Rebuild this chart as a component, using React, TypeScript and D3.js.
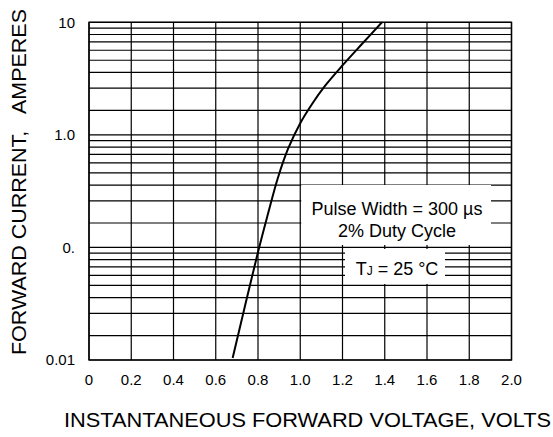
import * as d3 from 'd3';

// forward voltage (V) vs forward current (A)
const voltage = [0.68, 0.80, 0.847, 0.894, 0.942, 1.0, 1.056, 1.117, 1.202, 1.292, 1.387];
const current = [0.0104, 0.091, 0.198, 0.414, 0.75, 1.27, 1.88, 2.72, 4.18, 6.41, 10];

const xTicks = [0, 0.2, 0.4, 0.6, 0.8, 1.0, 1.2, 1.4, 1.6, 1.8, 2.0];
const xTickLabels = ['0', '0.2', '0.4', '0.6', '0.8', '1.0', '1.2', '1.4', '1.6', '1.8', '2.0'];
const yDecades = [10, 1, 0.1, 0.01];
const yTickLabels = ['10', '1.0', '0.', '0.01'];
const minorSteps = [2, 3, 4, 5, 6, 7, 8, 9];

const W = 553, H = 437;
const left = 89, right = 511.5, top = 22.3, bottom = 360;
// the printed sheet draws its minor lines a bit stretched inside each decade
const GRID_STRETCH = 1.12;
const font = '"Liberation Sans", Arial, Helvetica, sans-serif';

const App = () => {
  const x = d3.scaleLinear().domain([0, 2]).range([left, right]);
  const y = d3.scaleLog().domain([0.01, 10]).range([bottom, top]);

  const minorY: number[] = [];
  yDecades.slice(0, 3).forEach(t => {
    const span = y(t / 10) - y(t);
    minorSteps.forEach(k => minorY.push(y(t) + (1 - Math.log10(k)) * span * GRID_STRETCH));
  });

  const line = d3.line<number>()
    .x((_, i) => x(voltage[i]))
    .y((_, i) => y(current[i]))
    .curve(d3.curveCatmullRom.alpha(0.5));

  const gridStroke = { stroke: '#000', strokeWidth: 1.2 };

  return (
    <svg width={W} height={H} style={{ position: 'absolute', left: 0, top: 0, background: '#fff' }}
      fontFamily={font}>
      {/* grid */}
      {minorY.map((yy, i) => (
        <line key={'m' + i} x1={left} x2={right} y1={yy} y2={yy} {...gridStroke} />
      ))}
      {yDecades.map(d => (
        <line key={'d' + d} x1={left} x2={right} y1={y(d)} y2={y(d)} {...gridStroke} />
      ))}
      {xTicks.map(v => (
        <line key={'v' + v} x1={x(v)} x2={x(v)} y1={top} y2={bottom} {...gridStroke} />
      ))}

      {/* annotation boxes cut the grid */}
      <rect x={x(1.0) + 1} y={185} width={491 - x(1.0) - 1} height={60} fill="#fff" />
      <rect x={345} y={249} width={100} height={35} fill="#fff" />
      <text x={397} y={215} fontSize={18} textAnchor="middle">Pulse Width = 300 µs</text>
      <text x={397} y={236.5} fontSize={18} textAnchor="middle">2% Duty Cycle</text>
      <text x={397} y={275} fontSize={18} textAnchor="middle">
        T<tspan fontSize={12}>J</tspan> = 25 °C
      </text>

      {/* curve */}
      <path d={line(voltage) ?? ''} fill="none" stroke="#000" strokeWidth={2} />

      {/* frame */}
      <rect x={left} y={top} width={right - left} height={bottom - top} fill="none" stroke="#000" strokeWidth={1.4} />

      {/* tick labels */}
      {yDecades.map((d, i) => (
        <text key={'yl' + d} x={75} y={y(d)} dy="0.35em" fontSize={15} textAnchor="end">{yTickLabels[i]}</text>
      ))}
      {xTicks.map((v, i) => (
        <text key={'xl' + v} x={x(v)} y={380} dy="0.35em" fontSize={15} textAnchor="middle">{xTickLabels[i]}</text>
      ))}

      {/* axis titles */}
      <text x={64} y={427} fontSize={20} textLength={487} lengthAdjust="spacingAndGlyphs">
        INSTANTANEOUS FORWARD VOLTAGE, VOLTS
      </text>
      <text transform="translate(25.5,355) rotate(-90)" fontSize={20} textLength={346}
        lengthAdjust="spacingAndGlyphs" style={{ whiteSpace: 'pre' }}>
        {'FORWARD CURRENT,   AMPERES'}
      </text>
    </svg>
  );
};

export default App;
